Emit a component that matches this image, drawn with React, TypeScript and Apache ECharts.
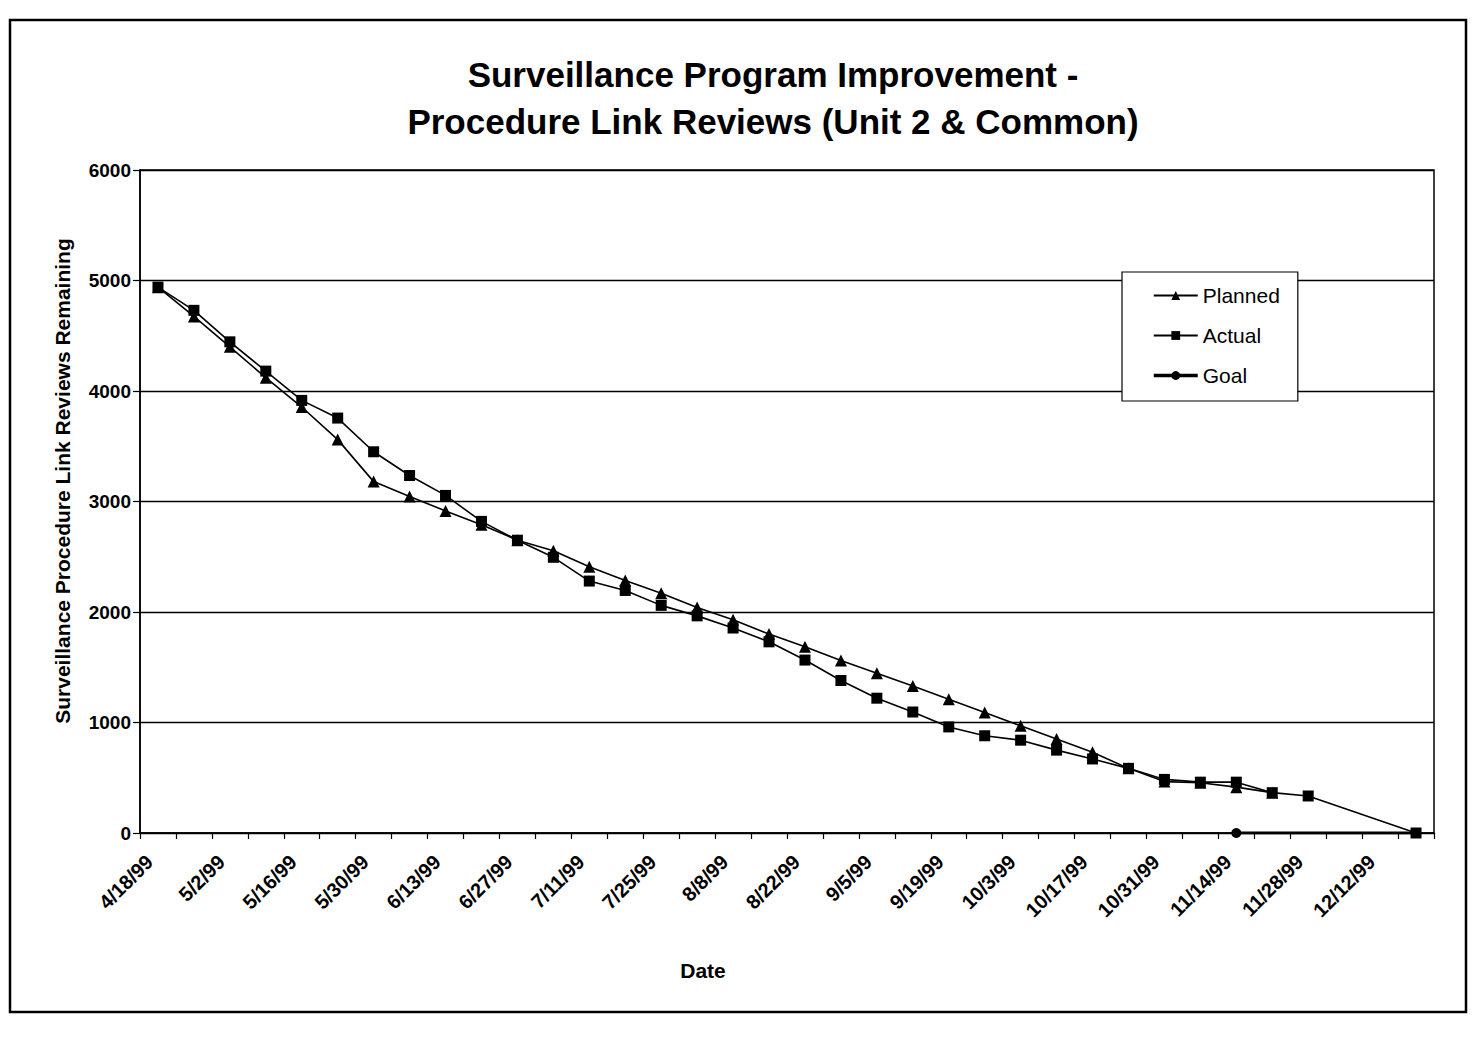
import React, { useEffect, useRef } from "react";
import * as echarts from "echarts";

const dates = [
  "4/18/99", "4/25/99", "5/2/99", "5/9/99", "5/16/99", "5/23/99", "5/30/99", "6/6/99",
  "6/13/99", "6/20/99", "6/27/99", "7/4/99", "7/11/99", "7/18/99", "7/25/99", "8/1/99",
  "8/8/99", "8/15/99", "8/22/99", "8/29/99", "9/5/99", "9/12/99", "9/19/99", "9/26/99",
  "10/3/99", "10/10/99", "10/17/99", "10/24/99", "10/31/99", "11/7/99", "11/14/99", "11/21/99",
  "11/28/99", "12/5/99", "12/12/99", "12/19/99",
];

const planned = [
  4940, 4675, 4400, 4120, 3855, 3560, 3180, 3045, 2915, 2790, 2650, 2555, 2410, 2285, 2170, 2040,
  1930, 1800, 1685, 1560, 1445, 1330, 1210, 1090, 970, 850, 730, 585, 465, 455, 415, 365,
  null, null, null, null,
];

const actual = [
  4940, 4730, 4445, 4180, 3915, 3755, 3450, 3235, 3055, 2820, 2650, 2495, 2280, 2195, 2060, 1965,
  1855, 1730, 1565, 1380, 1220, 1095, 960, 880, 840, 750, 670, 585, 485, 460, 460, 365,
  335, null, null, 0,
];

const goal = [
  null, null, null, null, null, null, null, null, null, null, null, null, null, null, null, null,
  null, null, null, null, null, null, null, null, null, null, null, null, null, null, 0, null,
  null, null, null, 0,
];

const FONT = "'Liberation Sans', Arial, Helvetica, sans-serif";

export default function App() {
  const ref = useRef<HTMLDivElement>(null);
  useEffect(() => {
    if (!ref.current) return;
    const chart = echarts.init(ref.current, undefined, { renderer: "svg" });
    chart.setOption({
      animation: false,
      backgroundColor: "#fff",
      title: {
        text: "Surveillance Program Improvement -\nProcedure Link Reviews (Unit 2 & Common)",
        left: 768,
        textAlign: "center",
        top: 46,
        textStyle: {
          fontFamily: FONT,
          fontSize: 35,
          fontWeight: "bold",
          color: "#000",
          lineHeight: 47,
        },
      },
      graphic: [
        {
          type: "rect",
          shape: { x: 10, y: 20, width: 1456, height: 992 },
          style: { fill: "none", stroke: "#000", lineWidth: 2.5 },
          silent: true,
        },
        {
          type: "text",
          x: 62,
          y: 481,
          rotation: Math.PI / 2,
          style: {
            text: "Surveillance Procedure Link Reviews Remaining",
            fontFamily: FONT,
            fontSize: 21,
            fontWeight: "bold",
            fill: "#000",
            align: "center",
            verticalAlign: "middle",
          },
          silent: true,
        },
        {
          type: "text",
          x: 703,
          y: 970,
          style: {
            text: "Date",
            fontFamily: FONT,
            fontSize: 21,
            fontWeight: "bold",
            fill: "#000",
            align: "center",
            verticalAlign: "middle",
          },
          silent: true,
        },
      ],
      legend: {
        orient: "vertical",
        left: 1122,
        top: 272,
        padding: [13, 18, 15, 30],
        itemGap: 19,
        itemWidth: 44,
        itemHeight: 11,
        backgroundColor: "#fff",
        borderColor: "#000",
        borderWidth: 1.2,
        textStyle: { fontFamily: FONT, fontSize: 21, lineHeight: 20, color: "#000" },
        data: [
          { name: "Planned" },
          { name: "Actual" },
          { name: "Goal", lineStyle: { width: 3.5 } },
        ],
      },
      grid: {
        left: 140,
        right: 40,
        top: 170,
        bottom: 212,
        show: true,
        borderColor: "#000",
        borderWidth: 1.5,
        containLabel: false,
      },
      xAxis: {
        type: "category",
        data: dates,
        boundaryGap: true,
        axisLine: { lineStyle: { color: "#000", width: 1.5 } },
        axisTick: { show: true, interval: 0, length: 6, lineStyle: { color: "#000", width: 1.2 } },
        axisLabel: {
          interval: 1,
          rotate: 45,
          margin: 17,
          padding: [0, 12, 0, 0],
          fontFamily: FONT,
          fontSize: 20,
          fontWeight: "bold",
          color: "#000",
        },
        splitLine: { show: false },
      },
      yAxis: {
        type: "value",
        min: 0,
        max: 6000,
        interval: 1000,
        axisLine: { show: true, lineStyle: { color: "#000", width: 1.5 } },
        axisTick: { show: true, inside: false, length: 7, lineStyle: { color: "#000", width: 1.2 } },
        axisLabel: {
          fontFamily: FONT,
          fontSize: 19,
          fontWeight: "bold",
          color: "#000",
          margin: 9,
          formatter: (v: number) => String(v),
        },
        splitLine: { show: true, lineStyle: { color: "#000", width: 1.3 } },
      },
      series: [
        {
          name: "Planned",
          type: "line",
          data: planned,
          symbol: "triangle",
          symbolSize: 12,
          itemStyle: { color: "#000" },
          lineStyle: { color: "#000", width: 1.6 },
          z: 3,
        },
        {
          name: "Actual",
          type: "line",
          data: actual,
          connectNulls: true,
          symbol: "rect",
          symbolSize: 11,
          itemStyle: { color: "#000" },
          lineStyle: { color: "#000", width: 1.6 },
          z: 4,
        },
        {
          name: "Goal",
          type: "line",
          data: goal,
          connectNulls: true,
          symbol: "circle",
          symbolSize: 10,
          itemStyle: { color: "#000" },
          lineStyle: { color: "#000", width: 3 },
          z: 5,
        },
      ],
    });
    return () => chart.dispose();
  }, []);
  return (
    <div
      ref={ref}
      style={{ position: "absolute", left: 0, top: 0, width: 1474, height: 1045 }}
    />
  );
}
